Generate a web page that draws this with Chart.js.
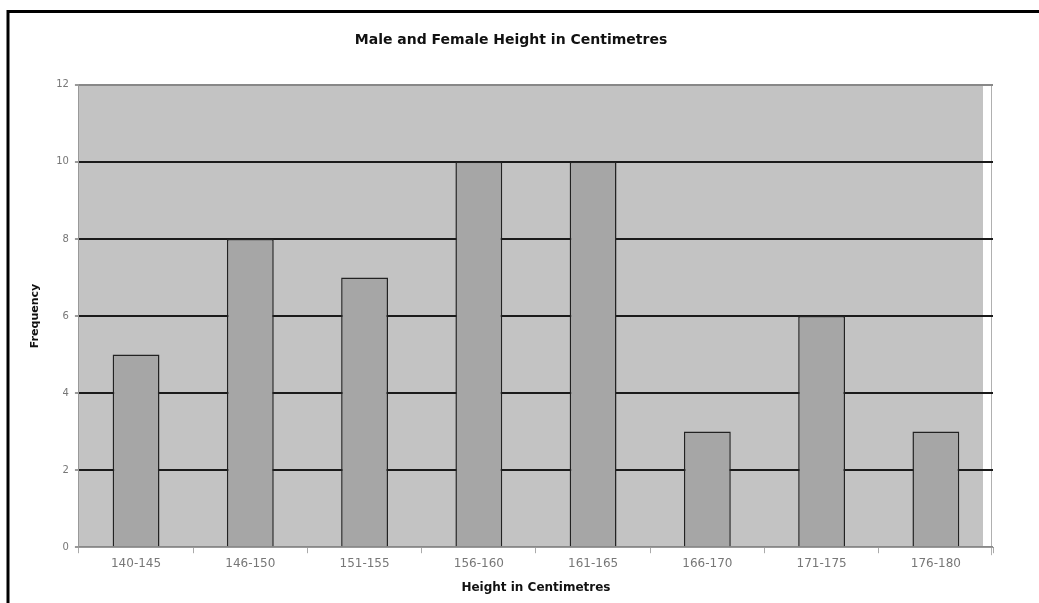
<!DOCTYPE html>
<html lang="en">
<head>
    <meta charset="UTF-8">
    <title>Male and Female Height in Centimetres</title>
    <script src="https://cdn.jsdelivr.net/npm/chart.js"></script>
    <style>
        body { margin: 0; background: #fff; }
        #wrap { width: 1039px; height: 603px; position: relative; }
    </style>
</head>
<body>
    <div id="wrap"><canvas id="heightChart" width="1039" height="603"></canvas></div>
    <script>
        const heightRanges = ['140-145', '146-150', '151-155', '156-160', '161-165', '166-170', '171-175', '176-180'];
        const frequencies = [5, 8, 7, 10, 10, 3, 6, 3];

        // page frame + grey plot background, drawn before the grid
        const plotBackground = {
            id: 'plotBackground',
            beforeDraw(chart) {
                const { ctx, chartArea: a } = chart;
                ctx.save();
                ctx.fillStyle = '#fff';
                ctx.fillRect(0, 0, chart.width, chart.height);
                ctx.fillStyle = '#c3c3c3';
                ctx.fillRect(a.left, a.top, a.right - a.left - 10, a.bottom - a.top);
                ctx.strokeStyle = '#b0b0b0';
                ctx.lineWidth = 1;
                ctx.beginPath();
                ctx.moveTo(a.right - 1.5, a.top);
                ctx.lineTo(a.right - 1.5, a.bottom + 8);
                ctx.stroke();
                ctx.strokeStyle = '#000';
                ctx.lineWidth = 3;
                ctx.beginPath();
                ctx.moveTo(8, chart.height);
                ctx.lineTo(8, 11.5);
                ctx.lineTo(chart.width, 11.5);
                ctx.stroke();
                ctx.restore();
            }
        };

        const fontFamily = 'DejaVu Sans';

        const ctx = document.getElementById('heightChart').getContext('2d');
        new Chart(ctx, {
            type: 'bar',
            data: {
                labels: heightRanges,
                datasets: [{
                    label: 'Frequency',
                    data: frequencies,
                    backgroundColor: '#a6a6a6',
                    borderColor: '#222',
                    borderWidth: 1.5,
                    barPercentage: 0.41,
                    categoryPercentage: 1
                }]
            },
            options: {
                responsive: false,
                animation: false,
                layout: { padding: { left: 29, right: 46, top: 32, bottom: 8 } },
                plugins: {
                    legend: { display: false },
                    tooltip: { enabled: false },
                    title: {
                        display: true,
                        text: 'Male and Female Height in Centimetres',
                        color: '#111',
                        font: { family: fontFamily, size: 14, weight: 'bold' },
                        padding: { top: 0, bottom: 36 }
                    }
                },
                scales: {
                    x: {
                        grid: {
                            offset: true,
                            drawOnChartArea: false,
                            color: '#aaa',
                            tickLength: 6
                        },
                        border: { color: '#999', width: 1 },
                        ticks: {
                            color: '#777',
                            font: { family: fontFamily, size: 12 },
                            padding: 3,
                            maxRotation: 0
                        },
                        title: {
                            display: true,
                            text: 'Height in Centimetres',
                            color: '#111',
                            font: { family: fontFamily, size: 12, weight: 'bold' },
                            padding: { top: 7, bottom: 0 }
                        }
                    },
                    y: {
                        min: 0,
                        max: 12,
                        ticks: {
                            stepSize: 2,
                            color: '#777',
                            font: { family: fontFamily, size: 10 },
                            padding: 6
                        },
                        grid: {
                            color: c => (c.tick.value === 0 || c.tick.value === 12) ? '#888' : '#1a1a1a',
                            lineWidth: 2,
                            tickLength: 4,
                            tickColor: '#999'
                        },
                        border: { color: '#999', width: 1 },
                        title: {
                            display: true,
                            text: 'Frequency',
                            color: '#111',
                            font: { family: fontFamily, size: 11, weight: 'bold' },
                            padding: { top: 0, bottom: 8 }
                        }
                    }
                }
            },
            plugins: [plotBackground]
        });
    </script>
</body>
</html>
